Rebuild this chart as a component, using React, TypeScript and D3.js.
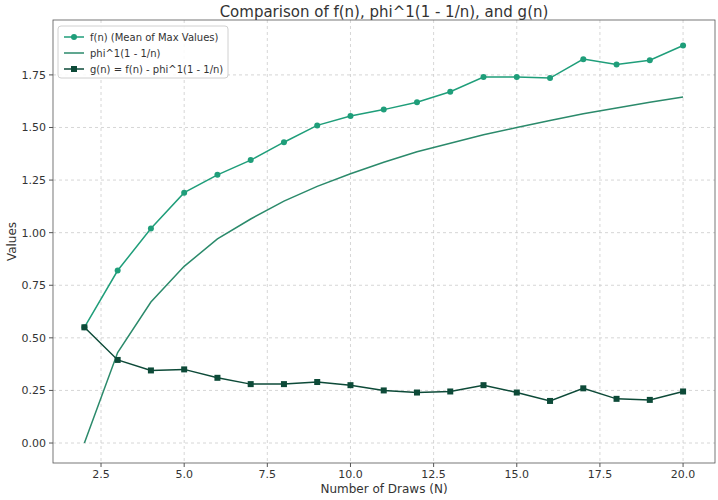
import React from 'react';
import * as d3 from 'd3';

const draws = [2, 3, 4, 5, 6, 7, 8, 9, 10, 11, 12, 13, 14, 15, 16, 17, 18, 19, 20];
const fValues = [0.55, 0.82, 1.02, 1.19, 1.275, 1.345, 1.43, 1.51, 1.555, 1.585, 1.62, 1.67, 1.74, 1.74, 1.735, 1.825, 1.8, 1.82, 1.89];
const phiValues = [0, 0.43, 0.67, 0.84, 0.97, 1.065, 1.15, 1.22, 1.28, 1.335, 1.385, 1.425, 1.465, 1.5, 1.533, 1.565, 1.593, 1.62, 1.645];
const gValues = [0.55, 0.395, 0.345, 0.35, 0.31, 0.28, 0.28, 0.29, 0.275, 0.25, 0.24, 0.245, 0.275, 0.24, 0.2, 0.26, 0.21, 0.205, 0.245];
const xTicks = [2.5, 5.0, 7.5, 10.0, 12.5, 15.0, 17.5, 20.0];
const yTicks = [0, 0.25, 0.5, 0.75, 1.0, 1.25, 1.5, 1.75];

const W = 718, H = 500;
const m = { left: 53, right: 3, top: 20, bottom: 37 };
const font = 'DejaVu Sans, sans-serif';

export default function App() {
  const x = d3.scaleLinear().domain([1.056, 20.96]).range([m.left, W - m.right]);
  const y = d3.scaleLinear().domain([-0.095, 2.011]).range([H - m.bottom, m.top]);
  const line = (vals: number[]) => d3.line<number>().x((_, i) => x(draws[i])).y(d => y(d))(vals) || '';
  const cF = '#1f9e7a', cP = '#2b8a6b', cG = '#0d4a38';
  return (
    <svg width={W} height={H} style={{ position: 'absolute', left: 0, top: 0, background: '#fff' }} fontFamily={font}>
      {xTicks.map(t => <line key={'gx' + t} x1={x(t)} x2={x(t)} y1={m.top} y2={H - m.bottom} stroke="#ccc" strokeDasharray="3,3" strokeWidth={0.8} />)}
      {yTicks.map(t => <line key={'gy' + t} y1={y(t)} y2={y(t)} x1={m.left} x2={W - m.right} stroke="#ccc" strokeDasharray="3,3" strokeWidth={0.8} />)}
      <rect x={m.left} y={m.top} width={W - m.left - m.right} height={H - m.top - m.bottom} fill="none" stroke="#555" strokeWidth={0.8} />
      {xTicks.map(t => (
        <g key={'tx' + t}>
          <line x1={x(t)} x2={x(t)} y1={H - m.bottom} y2={H - m.bottom + 4} stroke="#555" />
          <text x={x(t)} y={H - m.bottom + 15} fontSize={11} textAnchor="middle" fill="#333">{t.toFixed(1)}</text>
        </g>
      ))}
      {yTicks.map(t => (
        <g key={'ty' + t}>
          <line x1={m.left - 4} x2={m.left} y1={y(t)} y2={y(t)} stroke="#555" />
          <text x={m.left - 7} y={y(t) + 4} fontSize={11} textAnchor="end" fill="#333">{t.toFixed(2)}</text>
        </g>
      ))}
      <text x={(m.left + W - m.right) / 2} y={H - 7} fontSize={12} textAnchor="middle" fill="#333">Number of Draws (N)</text>
      <text transform={`translate(16,${(m.top + H - m.bottom) / 2}) rotate(-90)`} fontSize={12} textAnchor="middle" fill="#333">Values</text>
      <text x={(m.left + W - m.right) / 2} y={17} fontSize={15} textAnchor="middle" fill="#333">Comparison of f(n), phi^1(1 - 1/n), and g(n)</text>
      <path d={line(fValues)} fill="none" stroke={cF} strokeWidth={1.5} />
      {fValues.map((v, i) => <circle key={'f' + i} cx={x(draws[i])} cy={y(v)} r={3} fill={cF} />)}
      <path d={line(phiValues)} fill="none" stroke={cP} strokeWidth={1.5} />
      <path d={line(gValues)} fill="none" stroke={cG} strokeWidth={1.5} />
      {gValues.map((v, i) => <rect key={'g' + i} x={x(draws[i]) - 3} y={y(v) - 3} width={6} height={6} fill={cG} />)}
      <g transform="translate(58,26)">
        <rect width={170} height={52} fill="#fff" stroke="#ccc" rx={3} opacity={0.9} />
        <line x1={6} x2={26} y1={11} y2={11} stroke={cF} strokeWidth={1.5} /><circle cx={16} cy={11} r={3} fill={cF} />
        <text x={32} y={15} fontSize={10} fill="#333">f(n) (Mean of Max Values)</text>
        <line x1={6} x2={26} y1={27} y2={27} stroke={cP} strokeWidth={1.5} />
        <text x={32} y={31} fontSize={10} fill="#333">phi^1(1 - 1/n)</text>
        <line x1={6} x2={26} y1={43} y2={43} stroke={cG} strokeWidth={1.5} /><rect x={13} y={40} width={6} height={6} fill={cG} />
        <text x={32} y={47} fontSize={10} fill="#333">g(n) = f(n) - phi^1(1 - 1/n)</text>
      </g>
    </svg>
  );
}
